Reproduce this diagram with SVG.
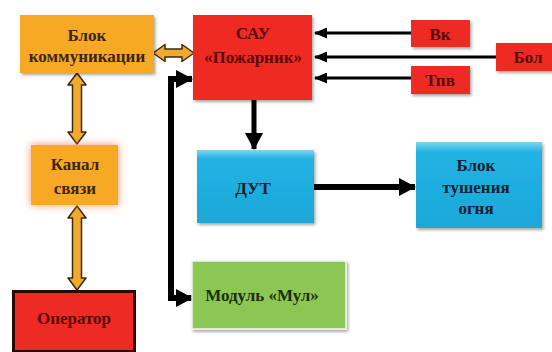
<svg xmlns="http://www.w3.org/2000/svg" width="552" height="352" viewBox="0 0 552 352">
<defs>
<style>
text{font-family:'Liberation Serif','Times New Roman',serif;font-weight:700;font-size:17px;text-anchor:middle;dominant-baseline:central}
.red{fill:#ee2a24}
.org{fill:#f7a928}
.grn{fill:#8cc653}
.tr{fill:#5a0606}
.to{fill:#3a2606}
.tb{fill:#10222e}
.tg{fill:#1a2e0c}
.bk{fill:none;stroke:#000}
.oa{fill:#f2aa2e;stroke:#3a2a10;stroke-width:1.5;stroke-linejoin:round}
</style>
<filter id="sh" x="-10%" y="-10%" width="125%" height="130%">
<feDropShadow dx="1.5" dy="2" stdDeviation="1.5" flood-color="#000" flood-opacity="0.35"/>
</filter>
<filter id="glow" x="-30%" y="-30%" width="160%" height="160%">
<feDropShadow dx="0" dy="0" stdDeviation="4" flood-color="#e8784a" flood-opacity="0.8"/>
</filter>
<linearGradient id="bev" x1="0" y1="0" x2="0" y2="1">
<stop offset="0" stop-color="#7fd6f2"/>
<stop offset="0.12" stop-color="#22b3e3"/>
<stop offset="1" stop-color="#1ba8d8"/>
</linearGradient>
<marker id="ah" markerUnits="userSpaceOnUse" markerWidth="13" markerHeight="11" refX="12" refY="5.5" orient="auto">
<path d="M0,0 L13,5.5 L0,11 z" fill="#000"/>
</marker>
<marker id="ahb" markerUnits="userSpaceOnUse" markerWidth="17" markerHeight="18" refX="16" refY="9" orient="auto-start-reverse">
<path d="M0,0 L17,9 L0,18 z" fill="#000"/>
</marker>
</defs>
<rect width="552" height="352" fill="#fff"/>

<g id="connectors">
<path class="bk" d="M411,33 H315" stroke-width="3" marker-end="url(#ah)"/>
<path class="bk" d="M496,57 H315" stroke-width="3" marker-end="url(#ah)"/>
<path class="bk" d="M411,78 H315" stroke-width="3" marker-end="url(#ah)"/>
<path class="bk" d="M254,100 V149" stroke-width="5" marker-end="url(#ahb)"/>
<path class="bk" d="M314,187 H415" stroke-width="6" marker-end="url(#ahb)"/>
<path class="bk" d="M192,79 H171 V298 H192" stroke-width="6" stroke-linejoin="miter" marker-start="url(#ahb)" marker-end="url(#ahb)"/>
<path class="oa" d="M153,53 L165,44.5 V49 H182 V44.5 L194,53 L182,61.5 V57 H165 V61.5 Z"/>
<path class="oa" d="M77,73 L86,85 H81.5 V132 H86 L77,144 L68,132 H72.5 V85 H68 Z"/>
<path class="oa" d="M77,206 L86,218 H81.5 V278 H86 L77,290 L68,278 H72.5 V218 H68 Z"/>
</g>

<g font-family="Liberation Serif, serif" font-weight="bold">
<g id="blok-komm">
<rect x="20" y="15" width="134" height="58" class="org" filter="url(#sh)"/>
<text x="87" y="35" class="to">Блок</text>
<text x="87" y="56" class="to">коммуникации</text>
</g>

<g id="sau">
<rect x="193" y="15" width="119" height="85" class="red" filter="url(#sh)"/>
<text x="253" y="33" class="tr">САУ</text>
<text x="253" y="57" class="tr">«Пожарник»</text>
</g>

<g id="vk">
<rect x="411" y="20" width="59" height="27" class="red" filter="url(#sh)"/>
<text x="440" y="34" class="tr">Вк</text>
</g>

<g id="bol">
<rect x="496" y="43" width="60" height="28" class="red" filter="url(#sh)"/>
<text x="528" y="57" class="tr">Бол</text>
</g>

<g id="tpv">
<rect x="411" y="66" width="59" height="28" class="red" filter="url(#sh)"/>
<text x="440" y="80" class="tr">Тпв</text>
</g>

<g id="kanal">
<rect x="31" y="145" width="87" height="60" class="org" filter="url(#glow)"/>
<text x="75" y="164" class="to">Канал</text>
<text x="75" y="188" class="to">связи</text>
</g>

<g id="operator">
<rect x="13.5" y="291.5" width="121" height="60" class="red" stroke="#2a0808" stroke-width="3"/>
<text x="74" y="318" class="tr">Оператор</text>
</g>

<g id="dut">
<rect x="197" y="150" width="117" height="73" fill="url(#bev)" filter="url(#sh)"/>
<text x="253" y="188" class="tb">ДУТ</text>
</g>

<g id="blok-tush">
<rect x="416" y="142" width="126" height="86" fill="url(#bev)" filter="url(#sh)"/>
<text x="476" y="165" class="tb">Блок</text>
<text x="476" y="187" class="tb">тушения</text>
<text x="476" y="208" class="tb">огня</text>
</g>

<g id="modul">
<rect x="192" y="261" width="154" height="68" class="grn" stroke="#f4f4f4" stroke-width="1.5" filter="url(#sh)"/>
<text x="262" y="295" class="tg">Модуль «Мул»</text>
</g>
</g>
</svg>
